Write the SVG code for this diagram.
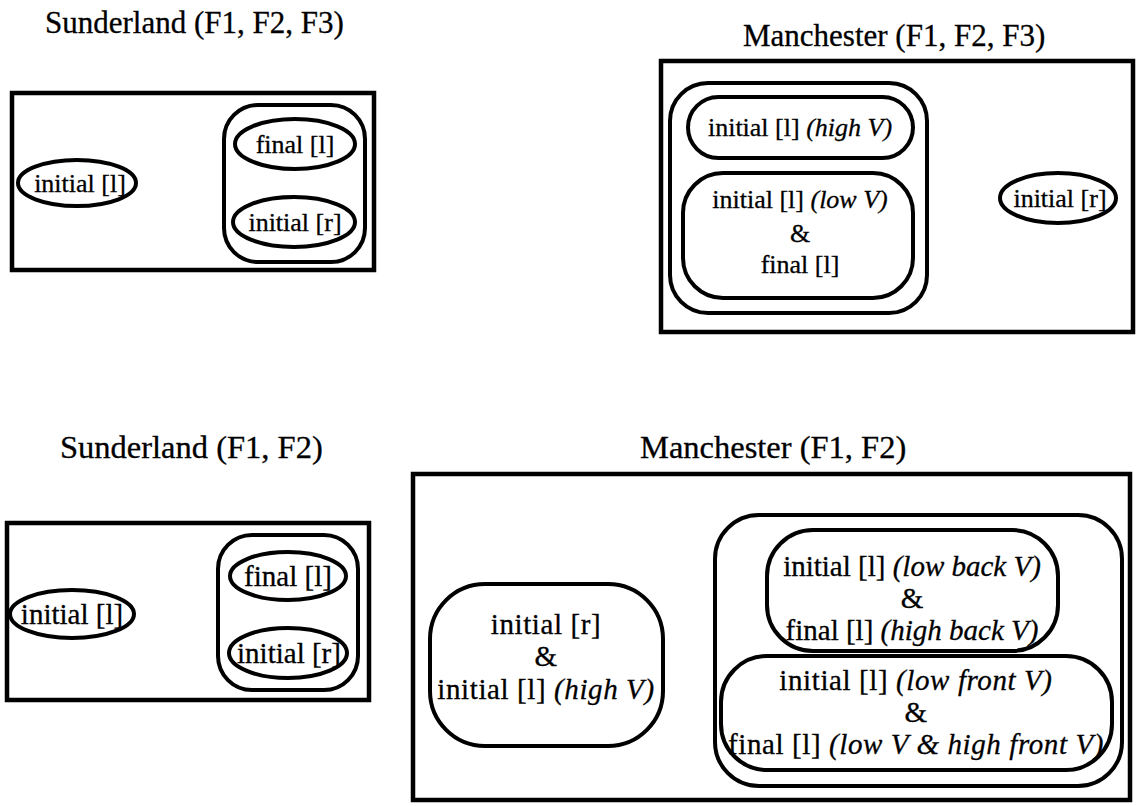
<svg xmlns="http://www.w3.org/2000/svg" width="1137" height="806" viewBox="0 0 1137 806">
  <style>
    .title { font-family: "Liberation Serif", "Times New Roman", serif; font-size: 31px; fill: #000; stroke: #000; stroke-width: 0.3; }
    .title2 { font-size: 32.5px; }
    .lbl { font-family: "Liberation Serif", "Times New Roman", serif; font-size: 26px; fill: #000; stroke: #000; stroke-width: 0.3; text-anchor: middle; }
    .lbl2 { font-family: "Liberation Serif", "Times New Roman", serif; font-size: 29px; fill: #000; stroke: #000; stroke-width: 0.3; text-anchor: middle; }
    .wide { letter-spacing: 0.6px; }
    .it { font-style: italic; }
    .panel { fill: none; stroke: #000; stroke-width: 4.5; }
    .shape { fill: none; stroke: #000; stroke-width: 4; }
  </style>
  <rect width="1137" height="806" fill="#fff"/>

  <!-- Sunderland (F1, F2, F3) -->
  <g id="sunderland-f123">
    <text class="title" x="45" y="33">Sunderland (F1, F2, F3)</text>
    <rect class="panel" x="12" y="93" width="362" height="177"/>
    <g id="s3-initial-l">
      <ellipse class="shape" cx="77" cy="183" rx="59" ry="23"/>
      <text class="lbl" x="80" y="192">initial [l]</text>
    </g>
    <g id="s3-group">
      <rect class="shape" x="224" y="105" width="141" height="157" rx="34"/>
      <g id="s3-final-l">
        <ellipse class="shape" cx="295" cy="144" rx="60" ry="25"/>
        <text class="lbl" x="295" y="153">final [l]</text>
      </g>
      <g id="s3-initial-r">
        <ellipse class="shape" cx="294" cy="222" rx="61" ry="25"/>
        <text class="lbl" x="295" y="231">initial [r]</text>
      </g>
    </g>
  </g>

  <!-- Manchester (F1, F2, F3) -->
  <g id="manchester-f123">
    <text class="title" x="743" y="46">Manchester (F1, F2, F3)</text>
    <rect class="panel" x="661" y="61" width="472" height="271"/>
    <g id="m3-group">
      <rect class="shape" x="670" y="83" width="257" height="230" rx="38"/>
      <g id="m3-high">
        <rect class="shape" x="688" y="97" width="225" height="61" rx="30.5"/>
        <text class="lbl" x="800" y="136">initial [l] <tspan class="it">(high V)</tspan></text>
      </g>
      <g id="m3-low">
        <rect class="shape" x="683" y="173" width="230" height="125" rx="40"/>
        <text class="lbl" x="800" y="208">initial [l] <tspan class="it">(low V)</tspan></text>
        <text class="lbl" x="800" y="242">&amp;</text>
        <text class="lbl" x="800" y="273">final [l]</text>
      </g>
    </g>
    <g id="m3-initial-r">
      <ellipse class="shape" cx="1058" cy="198" rx="58" ry="25"/>
      <text class="lbl" x="1060" y="207">initial [r]</text>
    </g>
  </g>

  <!-- Sunderland (F1, F2) -->
  <g id="sunderland-f12">
    <text class="title title2" x="60" y="458">Sunderland (F1, F2)</text>
    <rect class="panel" x="7" y="523" width="362" height="177"/>
    <g id="s2-initial-l">
      <ellipse class="shape" cx="72" cy="614" rx="62" ry="24"/>
      <text class="lbl2" x="72" y="624">initial [l]</text>
    </g>
    <g id="s2-group">
      <rect class="shape" x="218" y="535" width="140" height="155" rx="34"/>
      <g id="s2-final-l">
        <ellipse class="shape" cx="288" cy="576" rx="58" ry="24"/>
        <text class="lbl2" x="288" y="586">final [l]</text>
      </g>
      <g id="s2-initial-r">
        <ellipse class="shape" cx="288" cy="653" rx="59" ry="25"/>
        <text class="lbl2" x="289" y="663">initial [r]</text>
      </g>
    </g>
  </g>

  <!-- Manchester (F1, F2) -->
  <g id="manchester-f12">
    <text class="title title2" x="640" y="458">Manchester (F1, F2)</text>
    <rect class="panel" x="413" y="474" width="717" height="326"/>
    <g id="m2-left">
      <rect class="shape" x="430" y="584" width="233" height="162" rx="55"/>
      <text class="lbl2 wide" x="546" y="634">initial [r]</text>
      <text class="lbl2 wide" x="546" y="666">&amp;</text>
      <text class="lbl2 wide" x="546" y="699">initial [l] <tspan class="it">(high V)</tspan></text>
    </g>
    <g id="m2-group">
      <rect class="shape" x="715" y="515" width="407" height="271" rx="44"/>
      <g id="m2-back">
        <rect class="shape" x="767" y="530" width="291" height="121" rx="46"/>
        <text class="lbl2" x="912" y="576">initial [l] <tspan class="it">(low back V)</tspan></text>
        <text class="lbl2" x="912" y="608">&amp;</text>
        <text class="lbl2" x="912" y="640">final [l] <tspan class="it">(high back V)</tspan></text>
      </g>
      <g id="m2-front">
        <rect class="shape" x="721" y="656" width="391" height="114" rx="46"/>
        <text class="lbl2 wide" x="916" y="690">initial [l] <tspan class="it">(low front V)</tspan></text>
        <text class="lbl2 wide" x="916" y="722">&amp;</text>
        <text class="lbl2 wide" x="916" y="754">final [l] <tspan class="it">(low V &amp; high front V)</tspan></text>
      </g>
    </g>
  </g>
</svg>
